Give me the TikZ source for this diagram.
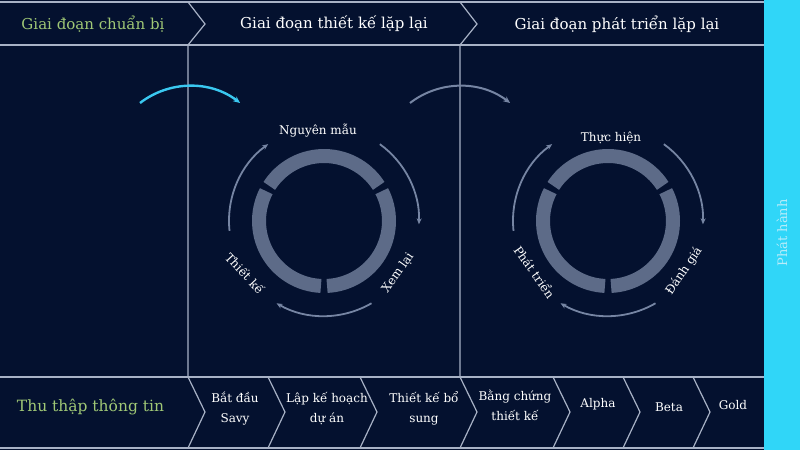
\documentclass[tikz,border=0pt]{standalone}
\usepackage{fontspec}
\setmainfont{DejaVu Serif}
\usetikzlibrary{arrows.meta}
\definecolor{bg}{RGB}{4,17,47}
\definecolor{frame}{RGB}{168,178,198}
\definecolor{ringc}{RGB}{93,107,136}
\definecolor{arrowc}{RGB}{118,133,163}
\definecolor{cyanarr}{RGB}{58,200,240}
\definecolor{barc}{RGB}{48,214,248}
\definecolor{greentxt}{RGB}{160,200,118}
\definecolor{bartxt}{RGB}{185,236,250}
\tikzset{
  frameline/.style={draw=frame, line width=1.2pt},
  ringseg/.style={draw=ringc, line width=14pt},
  cyclearrow/.style={draw=arrowc, line width=1.8pt, -{Stealth[length=6pt,width=5pt]}},
  phasearrow/.style={draw=cyanarr, line width=2.4pt, -{Stealth[length=7pt,width=6pt]}},
  grayphase/.style={draw=arrowc, line width=2pt, -{Stealth[length=7pt,width=6pt]}},
  headtxt/.style={inner sep=0pt, text=white, font=\fontsize{15}{18}\selectfont},
  greenhead/.style={inner sep=0pt, text=greentxt, font=\fontsize{15}{18}\selectfont},
  greenbig/.style={inner sep=0pt, text=greentxt, font=\fontsize{15.5}{18}\selectfont},
  smalltxt/.style={inner sep=0pt, text=white, align=center, font=\fontsize{12}{20}\selectfont},
  cyclelbl/.style={inner sep=0pt, text=white, font=\fontsize{12}{14}\selectfont},
  bartext/.style={inner sep=0pt, text=bartxt, font=\fontsize{13}{15}\selectfont}
}
\begin{document}
\begin{tikzpicture}[x=1pt,y=1pt]
\useasboundingbox (0,0) rectangle (800,450);
\fill[bg] (0,0) rectangle (800,450);
\fill[barc] (764,0) rectangle (800,450);

% frame lines
\coordinate (tl) at (0,448); \coordinate (tr) at (764,448);
\coordinate (hl) at (0,405); \coordinate (hr) at (764,405);
\coordinate (bl) at (0,73); \coordinate (br) at (764,73);
\coordinate (fl) at (0,2); \coordinate (fr) at (764,2);
\draw[frameline] (tl) -- (tr);
\draw[frameline] (hl) -- (hr);
\draw[frameline] (bl) -- (br);
\draw[frameline] (fl) -- (fr);

% header chevrons + vertical dividers
\foreach \x in {188,460}{
  \draw[frameline, line join=miter] (\x,448) -- (\x+17,426) -- (\x,405) -- (\x,73);
}
% bottom chevrons
\foreach \x in {188,268,360,460,553,623,693}{
  \draw[frameline, line join=miter] (\x,73) -- (\x+17,38) -- (\x,2);
}

% header texts
\node[greenhead] (h1) at (93,426) {Giai đoạn chuẩn bị};
\node[headtxt] (h2) at (334,426) {Giai đoạn thiết kế lặp lại};
\node[headtxt] (h3) at (617,426) {Giai đoạn phát triển lặp lại};

% bottom texts
\node[greenbig] (b0) at (90.5,43) {Thu thập thông tin};
\node[smalltxt] (b1) at (235,41) {Bắt đầu\\Savy};
\node[smalltxt] (b2) at (327,41) {Lập kế hoạch\\dự án};
\node[smalltxt] (b3) at (424,42) {Thiết kế bổ\\sung};
\node[smalltxt] (b4) at (515,45) {Bằng chứng\\thiết kế};
\node[smalltxt] (b5) at (598,46) {Alpha};
\node[smalltxt] (b6) at (669,43) {Beta};
\node[smalltxt] (b7) at (733,45) {Gold};

% release bar text
\node[bartext, rotate=90] (rel) at (782,217) {Phát hành};

% cycles
\foreach \cx/\nm in {324/L,608/R}{
  \coordinate (c\nm) at (\cx,229);
  \draw[ringseg] (c\nm) ++(32.7:65) arc[start angle=32.7, end angle=147.3, radius=65];
  \draw[ringseg] (c\nm) ++(152.7:65) arc[start angle=152.7, end angle=267.3, radius=65];
  \draw[ringseg] (c\nm) ++(272.7:65) arc[start angle=272.7, end angle=387.3, radius=65];
  \draw[cyclearrow] (c\nm) ++(186:95) arc[start angle=186, end angle=126, radius=95];
  \draw[cyclearrow] (c\nm) ++(54:95) arc[start angle=54, end angle=-2, radius=95];
  \draw[cyclearrow] (c\nm) ++(-60:95) arc[start angle=-60, end angle=-120, radius=95];
}

% cycle labels
\node[cyclelbl] (l1) at (318,319) {Nguyên mẫu};
\node[cyclelbl, rotate=-47] (l2) at (245,177) {Thiết kế};
\node[cyclelbl, rotate=55] (l3) at (398,177) {Xem lại};
\node[cyclelbl] (r1) at (611,312) {Thực hiện};
\node[cyclelbl, rotate=-55] (r2) at (535,178) {Phát triển};
\node[cyclelbl, rotate=56] (r3) at (684,179) {Đánh giá};

% phase transition arrows
\coordinate (p1) at (140,347);
\coordinate (p2) at (410,347);
\draw[phasearrow] (p1) arc[start angle=127.6, end angle=52.4, radius=82];
\draw[grayphase] (p2) arc[start angle=127.6, end angle=52.4, radius=82];
\end{tikzpicture}
\end{document}
